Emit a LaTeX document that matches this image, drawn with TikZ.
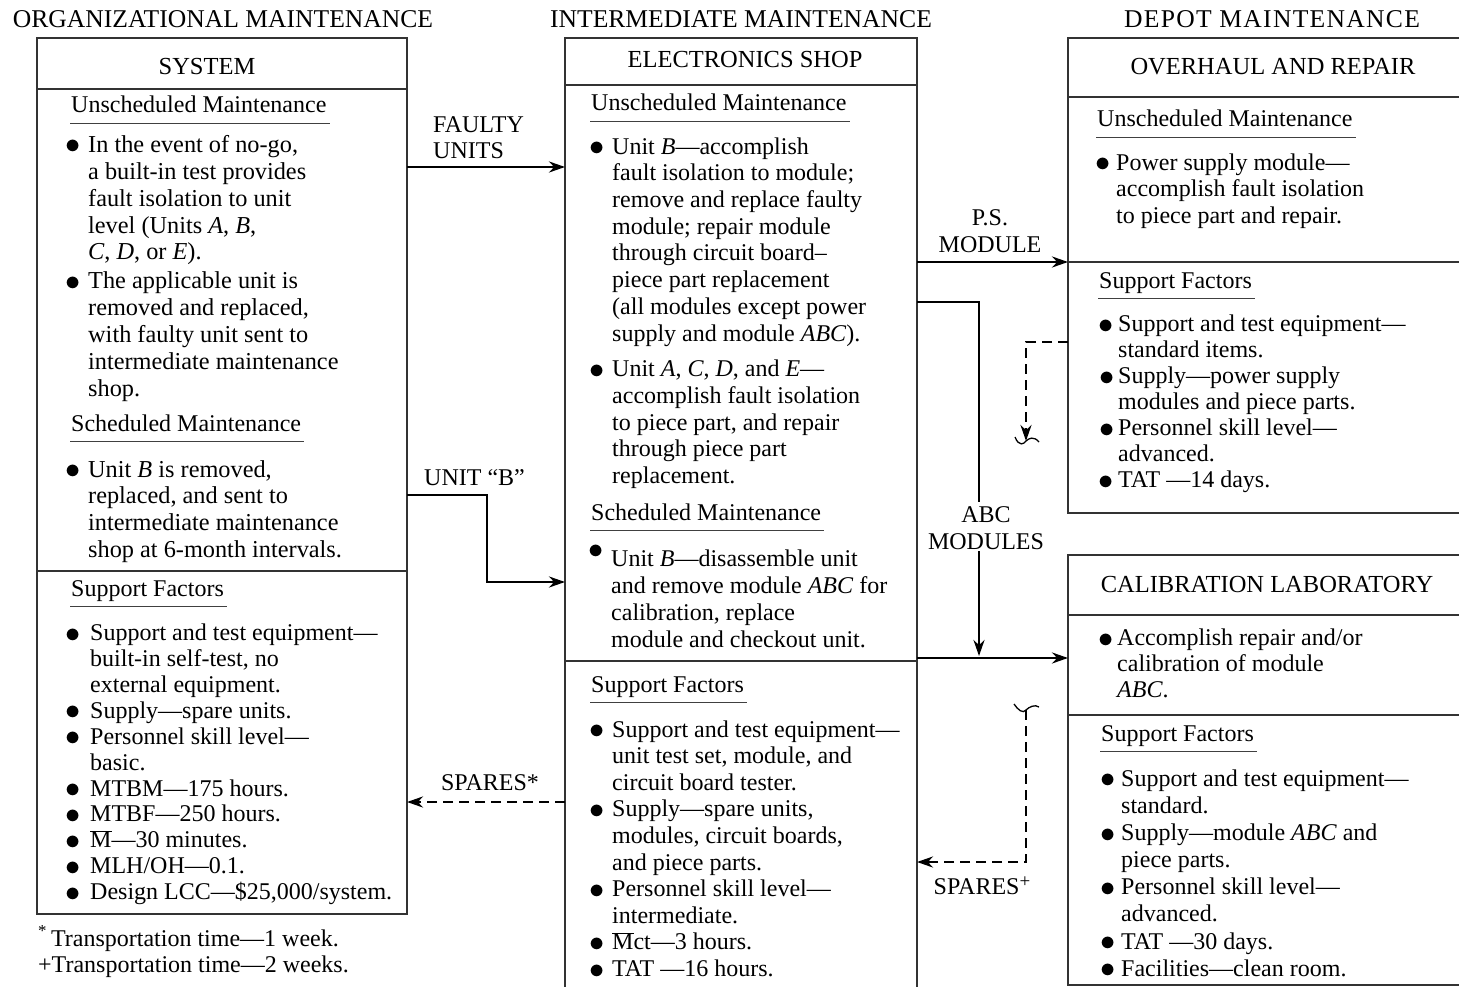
\documentclass[tikz,border=0pt]{standalone}
\usepackage{fontspec}
\usepackage{graphicx}
\setmainfont{Liberation Serif}
\usetikzlibrary{arrows.meta}

% bullet centred a given distance (pt) to the left of an item's first word
\newcommand{\bdot}{\scalebox{1.22}{$\bullet$}}
\newcommand{\bt}[1][15]{\llap{\makebox[0pt][c]{\raisebox{-1.5pt}{\bdot}}\hspace{#1pt}}}
\newcommand{\btup}{\llap{\makebox[0pt][c]{\raisebox{8pt}{\bdot}}\hspace{15pt}}}
\newcommand{\obar}[1]{$\overline{\mbox{#1}}$}

\tikzset{
  frame/.style={rectangle, inner sep=0pt, outer sep=0pt, anchor=north west},
  box/.style={draw=black!80, line width=1.7pt},
  uline/.style={draw=black!75, line width=1.2pt},
  flow/.style={draw=black, line width=2.7pt, -{Stealth[length=16pt,width=11pt]}},
  dflow/.style={flow, dash pattern=on 10pt off 6pt},
  squig/.style={draw=black, line width=1.3pt},
  blk/.style={inner sep=0pt, align=left, anchor=north west},
  hd/.style={inner sep=0pt, anchor=base west},
  captxt/.style={inner sep=0pt, anchor=base, font=\fontsize{24.5}{28}\selectfont},
  level/.style={inner sep=0pt, anchor=base, font=\fontsize{25.6}{28}\selectfont},
  lab/.style={inner sep=2pt, align=center, anchor=north, font=\fontsize{24}{26.8}\selectfont},
}

\begin{document}
\begin{tikzpicture}[x=1pt, y=-1pt, font=\fontsize{24}{26.7}\selectfont]
\useasboundingbox (0,0) rectangle (1459,987);

% ---- level captions
\node[level] (capO) at (223,28) {ORGANIZATIONAL MAINTENANCE};
\node[level] (capI) at (741,28) {INTERMEDIATE MAINTENANCE};
\node[level] (capD) at (1272,28) {\addfontfeature{LetterSpace=5}DEPOT MAINTENANCE};

% ---- frames
\node[frame, minimum width=370pt, minimum height=876pt] (sys) at (37,38) {};
\node[frame, minimum width=352pt, minimum height=952pt] (shop) at (565,38) {};
\node[frame, minimum width=391pt, minimum height=475pt] (ovh) at (1068,38) {};
\node[frame, minimum width=391pt, minimum height=430pt] (cal) at (1068,555) {};

\draw[box] (sys.north west) rectangle (sys.south east);
\draw[box] (sys.west |- 0,89) -- (sys.east |- 0,89);
\draw[box] (sys.west |- 0,571) -- (sys.east |- 0,571);

\draw[box] (shop.south west) -- (shop.north west) -- (shop.north east) -- (shop.south east);
\draw[box] (shop.west |- 0,85) -- (shop.east |- 0,85);
\draw[box] (shop.west |- 0,661) -- (shop.east |- 0,661);

\draw[box] (ovh.north east) -- (ovh.north west) -- (ovh.south west) -- (ovh.south east);
\draw[box] (ovh.west |- 0,97) -- (ovh.east |- 0,97);
\draw[box] (ovh.west |- 0,262) -- (ovh.east |- 0,262);

\draw[box] (cal.north east) -- (cal.north west) -- (cal.south west) -- (cal.south east);
\draw[box] (cal.west |- 0,615) -- (cal.east |- 0,615);
\draw[box] (cal.west |- 0,715) -- (cal.east |- 0,715);

% ---- frame titles
\node[captxt] (tSys) at (207,75) {SYSTEM};
\node[captxt] (tShop) at (745,68) {ELECTRONICS SHOP};
\node[captxt] (tOvh) at (1273,75) {OVERHAUL AND REPAIR};
\node[captxt] (tCal) at (1267,592) {CALIBRATION LABORATORY};

% ---- underlined section headings
\node[hd] (hL1) at (71,113) {Unscheduled Maintenance};
\node[hd] (hL2) at (71,431) {Scheduled Maintenance};
\node[hd] (hL3) at (71,596) {Support Factors};
\node[hd] (hM1) at (591,111) {Unscheduled Maintenance};
\node[hd] (hM2) at (591,520) {Scheduled Maintenance};
\node[hd] (hM3) at (591,692) {Support Factors};
\node[hd] (hR1) at (1097,127) {Unscheduled Maintenance};
\node[hd] (hR2) at (1099,288) {Support Factors};
\node[hd] (hR3) at (1101,741) {Support Factors};
\foreach \h in {hL1,hL2,hL3,hM1,hM2,hM3,hR1,hR2,hR3}
  \draw[uline] ([xshift=-1pt,yshift=-10.5pt]\h.base west) -- ([xshift=3pt,yshift=-10.5pt]\h.base east);

% ---- organizational level text
\node[blk, font=\fontsize{24.3}{26.9}\selectfont] (bL1) at (88,133.3) {%
\strut\bt In the event of no-go,\\
a built-in test provides\\
fault isolation to unit\\
level (Units \textit{A}, \textit{B},\\
\textit{C}, \textit{D}, or \textit{E}).\\[2pt]
\bt The applicable unit is\\
removed and replaced,\\
with faulty unit sent to\\
intermediate maintenance\\
shop.};

\node[blk, font=\fontsize{24.3}{26.7}\selectfont] (bL2) at (88,458.3) {%
\strut\bt Unit \textit{B} is removed,\\
replaced, and sent to\\
intermediate maintenance\\
shop at 6-month intervals.};

\node[blk, font=\fontsize{24}{25.9}\selectfont] (bL3) at (90,622.3) {%
\strut\bt[17]Support and test equipment—\\
built-in self-test, no\\
external equipment.\\
\bt[17]Supply—spare units.\\
\bt[17]Personnel skill level—\\
basic.\\
\bt[17]MTBM—175 hours.\\
\bt[17]MTBF—250 hours.\\
\bt[17]\obar{M}—30 minutes.\\
\bt[17]MLH/OH—0.1.\\
\bt[17]Design LCC—\$25,000/system.};

\node[hd] (fn1) at (38,946) {\textsuperscript{*}\,Transportation time—1 week.};
\node[hd] (fn2) at (38,972) {+Transportation time—2 weeks.};

% ---- intermediate level text
\node[blk] (bM1) at (612,135.3) {%
\strut\bt Unit \textit{B}—accomplish\\
fault isolation to module;\\
remove and replace faulty\\
module; repair module\\
through circuit board–\\
piece part replacement\\
(all modules except power\\
supply and module \textit{ABC}).\\[9pt]
\bt Unit \textit{A}, \textit{C}, \textit{D}, and \textit{E}—\\
accomplish fault isolation\\
to piece part, and repair\\
through piece part\\
replacement.};

\node[blk, font=\fontsize{24}{27}\selectfont] (bM2) at (611,545.3) {%
\strut\btup Unit \textit{B}—disassemble unit\\
and remove module \textit{ABC} for\\
calibration, replace\\
module and checkout unit.};

\node[blk, font=\fontsize{24}{26.6}\selectfont] (bM3) at (612,718.3) {%
\strut\bt Support and test equipment—\\
unit test set, module, and\\
circuit board tester.\\
\bt Supply—spare units,\\
modules, circuit boards,\\
and piece parts.\\
\bt Personnel skill level—\\
intermediate.\\
\bt \obar{M}ct—3 hours.\\
\bt TAT —16 hours.};

% ---- depot level text
\node[blk, font=\fontsize{24}{26.5}\selectfont] (bR1) at (1116,151.3) {%
\strut\bt[13]Power supply module—\\
accomplish fault isolation\\
to piece part and repair.};

\node[blk, font=\fontsize{24}{26}\selectfont] (bR2) at (1118,313.3) {%
\strut\bt[12]Support and test equipment—\\
standard items.\\
\bt[11]Supply—power supply\\
modules and piece parts.\\
\bt[11]Personnel skill level—\\
advanced.\\
\bt[12]TAT —14 days.};

\node[blk, font=\fontsize{24}{26}\selectfont] (bR3) at (1117,627.3) {%
\strut\bt[11]Accomplish repair and/or\\
calibration of module\\
\textit{ABC}.};

\node[blk, font=\fontsize{24}{27.1}\selectfont] (bR4) at (1121,767.3) {%
\strut\bt[13]Support and test equipment—\\
standard.\\
\bt[13]Supply—module \textit{ABC} and\\
piece parts.\\
\bt[13]Personnel skill level—\\
advanced.\\
\bt[13]TAT —30 days.\\
\bt[13]Facilities—clean room.};

% ---- flows
\coordinate (bBend) at (487,582);
\coordinate (abcJoin) at (979,656);
\coordinate (brk1) at (1026,441);
\coordinate (brk2) at (1026,710);

\draw[flow] (sys.east |- 0,167) -- (shop.west |- 0,167);
\draw[flow] (sys.east |- 0,495) -| (bBend) -- (shop.west |- bBend);
\draw[dflow] (shop.west |- 0,802) -- (sys.east |- 0,802);

\draw[flow] (shop.east |- 0,262) -- (ovh.west |- 0,262);
\draw[flow] (shop.east |- 0,302) -| (abcJoin);
\draw[flow] (shop.east |- 0,658) -- (cal.west |- 0,658);

\draw[dflow] (ovh.west |- 0,342) -| (brk1);
\draw[squig] ([xshift=-11pt,yshift=4pt]brk1) .. controls ([xshift=-7pt,yshift=-6pt]brk1) and ([xshift=-2pt,yshift=-3pt]brk1) .. (brk1)
  .. controls ([xshift=3pt,yshift=3pt]brk1) and ([xshift=8pt,yshift=5pt]brk1) .. ([xshift=13pt,yshift=-1pt]brk1);

\draw[dflow] (brk2) |- (shop.east |- 0,862);
\draw[squig] ([xshift=-12pt,yshift=6pt]brk2) .. controls ([xshift=-8pt,yshift=0pt]brk2) and ([xshift=-3pt,yshift=-4pt]brk2) .. (brk2)
  .. controls ([xshift=3pt,yshift=3pt]brk2) and ([xshift=9pt,yshift=6pt]brk2) .. ([xshift=13pt,yshift=3pt]brk2);

% ---- flow labels
\node[blk, font=\fontsize{24}{26.5}\selectfont] (lFaulty) at (433,113.3) {\strut FAULTY\\UNITS};
\node[hd] (lUnitB) at (424,485) {UNIT “B”};
\node[hd, anchor=base] (lSpares1) at (490,790) {SPARES*};
\node[lab] (lPS) at (990,204.3) {\strut P.S.\\MODULE};
\node[lab, fill=white] (lABC) at (986,501.3) {\strut ABC\\MODULES};
\node[hd, anchor=base] (lSpares2) at (982,894) {SPARES\raisebox{7pt}{\fontsize{19}{19}\selectfont +}};
\end{tikzpicture}
\end{document}
